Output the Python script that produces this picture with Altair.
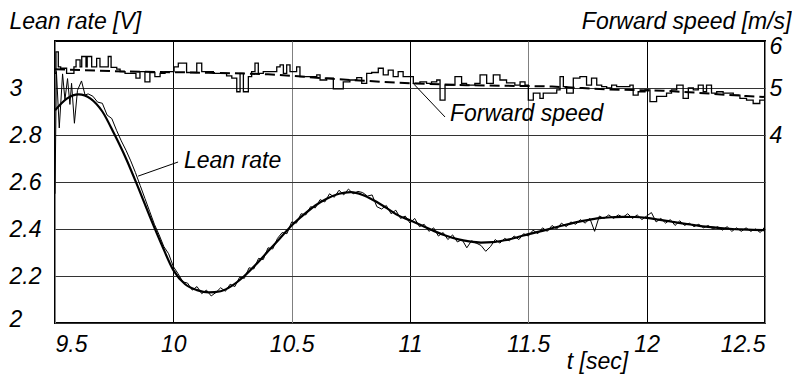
import altair as alt
import pandas as pd

FONT = "Liberation Sans"
FS = 23

# ---------------- data ----------------
# smooth fitted lean-rate curve
fit_t = [9.50, 9.55, 9.60, 9.65, 9.70, 9.75, 9.80, 9.85, 9.90, 9.95,
         10.00, 10.05, 10.10, 10.15, 10.20, 10.25, 10.30, 10.35, 10.40, 10.45,
         10.50, 10.55, 10.60, 10.65, 10.70, 10.75, 10.80, 10.85, 10.90, 10.95,
         11.00, 11.05, 11.10, 11.15, 11.20, 11.25, 11.30, 11.35, 11.40, 11.45,
         11.50, 11.55, 11.60, 11.65, 11.70, 11.75, 11.80, 11.85, 11.90, 11.95,
         12.00, 12.05, 12.10, 12.15, 12.20, 12.25, 12.30, 12.35, 12.40, 12.45,
         12.50]
fit_lean = [2.905, 2.955, 2.973, 2.955, 2.90, 2.805, 2.70, 2.58, 2.455, 2.335,
            2.225, 2.165, 2.14, 2.13, 2.135, 2.16, 2.20, 2.25, 2.305, 2.36,
            2.415, 2.46, 2.50, 2.53, 2.55, 2.557, 2.545, 2.52, 2.49, 2.458,
            2.437, 2.415, 2.392, 2.372, 2.357, 2.347, 2.342, 2.344, 2.352, 2.364,
            2.378, 2.39, 2.403, 2.416, 2.428, 2.438, 2.446, 2.45, 2.452, 2.451,
            2.447, 2.44, 2.432, 2.424, 2.417, 2.41, 2.405, 2.401, 2.398, 2.396,
            2.395]

# measured (noisy) lean rate
raw_t = [9.500, 9.506, 9.518, 9.532, 9.542, 9.553, 9.563, 9.570, 9.582, 9.595,
         9.612, 9.627, 9.640,
         9.66, 9.68, 9.70, 9.72, 9.74, 9.76, 9.78, 9.80, 9.82, 9.84,
         9.86, 9.88, 9.90, 9.92, 9.94, 9.96, 9.98, 10.00, 10.02, 10.04,
         10.06, 10.08, 10.10, 10.12, 10.14, 10.16, 10.18, 10.20, 10.22, 10.24,
         10.26, 10.28, 10.30, 10.32, 10.34, 10.36, 10.38, 10.40, 10.42, 10.44,
         10.46, 10.48, 10.50, 10.52, 10.54, 10.56, 10.58, 10.60, 10.62, 10.64,
         10.66, 10.68, 10.70, 10.72, 10.74, 10.76, 10.78, 10.80, 10.82, 10.84,
         10.86, 10.88, 10.90, 10.92, 10.94, 10.96, 10.98, 11.00, 11.02, 11.04,
         11.06, 11.08, 11.10, 11.12, 11.14, 11.16, 11.18, 11.20, 11.22, 11.24,
         11.26, 11.28, 11.30, 11.32, 11.34, 11.36, 11.38, 11.40, 11.42, 11.44,
         11.46, 11.48, 11.50, 11.52, 11.54, 11.56, 11.58, 11.60, 11.62, 11.64,
         11.66, 11.68, 11.70, 11.72, 11.74, 11.76, 11.78, 11.80, 11.82, 11.84,
         11.86, 11.88, 11.90, 11.92, 11.94, 11.96, 11.98, 12.00, 12.02, 12.04,
         12.06, 12.08, 12.10, 12.12, 12.14, 12.16, 12.18, 12.20, 12.22, 12.24,
         12.26, 12.28, 12.30, 12.32, 12.34, 12.36, 12.38, 12.40, 12.42, 12.44,
         12.46, 12.48, 12.50]
raw_lean = [2.55, 3.07, 2.83, 3.06, 2.95, 3.04, 2.93, 3.02, 2.85, 2.99,
            3.03, 2.97, 2.975,
            2.965, 2.94, 2.935, 2.885, 2.87, 2.82, 2.775, 2.735, 2.69, 2.64,
            2.585, 2.53, 2.475, 2.42, 2.375, 2.325, 2.295, 2.24, 2.21, 2.175,
            2.17, 2.14, 2.155, 2.125, 2.14, 2.115, 2.13, 2.15, 2.135, 2.165,
            2.155, 2.195, 2.19, 2.235, 2.23, 2.275, 2.27, 2.32, 2.315, 2.36,
            2.385, 2.38, 2.43, 2.425, 2.465, 2.46, 2.495, 2.49, 2.525, 2.515,
            2.55, 2.535, 2.565, 2.545, 2.57, 2.55, 2.56, 2.555, 2.54, 2.545,
            2.495, 2.485, 2.50, 2.465, 2.48, 2.445, 2.455, 2.425, 2.445, 2.41,
            2.42, 2.39, 2.405, 2.37, 2.385, 2.355, 2.375, 2.345, 2.355, 2.32,
            2.35, 2.34, 2.33, 2.305, 2.325, 2.355, 2.34, 2.36, 2.35, 2.37,
            2.355, 2.38, 2.37, 2.395, 2.38, 2.405, 2.39, 2.415, 2.40, 2.425,
            2.41, 2.43, 2.42, 2.44, 2.425, 2.445, 2.39, 2.455, 2.445, 2.46,
            2.445, 2.46, 2.45, 2.465, 2.445, 2.46, 2.44, 2.455, 2.47, 2.43,
            2.445, 2.425, 2.44, 2.415, 2.435, 2.415, 2.425, 2.41, 2.42, 2.405,
            2.415, 2.40, 2.41, 2.395, 2.41, 2.39, 2.405, 2.39, 2.405, 2.39,
            2.40, 2.385, 2.41]

# measured forward speed (quantised, stepwise)
speed_t = [9.500, 9.504, 9.514, 9.524, 9.549, 9.580, 9.589, 9.606, 9.613, 9.631,
           9.636, 9.655, 9.676, 9.690, 9.725, 9.737, 9.761, 9.775, 9.796, 9.842,
           9.859, 9.880, 9.901, 9.922, 9.944, 9.965, 10.003, 10.021, 10.056, 10.099,
           10.120, 10.169, 10.225, 10.247, 10.268, 10.282, 10.296, 10.317, 10.331, 10.345,
           10.359, 10.380, 10.437, 10.451, 10.465, 10.479, 10.493, 10.521, 10.535, 10.606,
           10.620, 10.648, 10.676, 10.718, 10.746, 10.775, 10.796, 10.817, 10.838, 10.866,
           10.887, 10.908, 10.929, 10.950, 10.971, 11.014, 11.042, 11.070, 11.091, 11.113,
           11.127, 11.148, 11.190, 11.218, 11.239, 11.274, 11.296, 11.324, 11.352, 11.380,
           11.408, 11.443, 11.465, 11.486, 11.500, 11.521, 11.549, 11.563, 11.620, 11.634,
           11.648, 11.662, 11.690, 11.718, 11.746, 11.767, 11.789, 11.810, 11.831, 11.852,
           11.873, 11.929, 11.943, 11.964, 11.993, 12.014, 12.042, 12.084, 12.105, 12.127,
           12.154, 12.176, 12.197, 12.218, 12.239, 12.253, 12.274, 12.296, 12.323, 12.366,
           12.394, 12.422, 12.450, 12.478, 12.500]
speed_v = [5.31, 5.77, 5.45, 5.42, 5.31, 5.45, 5.60, 5.45, 5.67, 5.45,
           5.67, 5.45, 5.63, 5.45, 5.67, 5.44, 5.40, 5.35, 5.31, 5.21,
           5.35, 5.13, 5.33, 5.24, 5.31, 5.35, 5.45, 5.53, 5.33, 5.53,
           5.35, 5.31, 5.26, 5.21, 4.92, 5.31, 4.92, 5.24, 5.35, 5.53,
           5.31, 5.35, 5.45, 5.49, 5.31, 5.49, 5.35, 5.45, 5.24, 5.28,
           5.17, 5.21, 4.98, 5.13, 5.17, 5.22, 5.10, 5.31, 5.33, 5.42,
           5.28, 5.38, 5.24, 5.35, 5.24, 5.10, 5.13, 5.10, 5.13, 5.17,
           4.74, 5.06, 5.24, 5.10, 5.06, 5.10, 5.28, 5.10, 5.28, 5.17,
           5.11, 5.06, 5.13, 5.06, 4.74, 4.89, 4.78, 4.89, 4.96, 5.24,
           5.03, 4.89, 5.21, 5.24, 5.06, 5.21, 5.06, 5.03, 5.00, 5.06,
           5.03, 5.06, 4.85, 4.92, 4.96, 4.71, 4.82, 4.89, 4.96, 5.06,
           4.78, 5.00, 4.96, 5.06, 4.92, 5.06, 4.89, 4.92, 4.89, 4.85,
           4.78, 4.74, 4.67, 4.74, 4.74]

# dashed fitted forward-speed trend
speedfit_t = [9.50, 9.81, 10.08, 10.40, 10.69, 11.01, 11.24, 11.60, 11.84, 12.07, 12.42, 12.50]
speedfit_v = [5.40, 5.35, 5.33, 5.29, 5.19, 5.10, 5.06, 5.03, 4.97, 4.94, 4.83, 4.81]

tick_t = [9.5, 10, 10.5, 11, 11.5, 12, 12.5]
tick_lean = [2, 2.2, 2.4, 2.6, 2.8, 3]
tick_speed = [4, 5, 6]

# annotations (label text, anchor, and leader-line ends in data units)
lean_label = {"text": ["Lean rate"], "t": [10.045], "v": [2.66]}
lean_leader = {"t": [10.02], "v": [2.685], "t2": [9.851], "v2": [2.625]}
speed_label = {"text": ["Forward speed"], "t": [11.169], "v": [4.30]}
speed_leader = {"t": [11.012], "v": [5.106], "t2": [11.148], "v2": [4.383]}

# ---------------- frames ----------------
df_fit = pd.DataFrame({"t": fit_t, "v": fit_lean})
df_raw = pd.DataFrame({"t": raw_t, "v": raw_lean})
df_speed = pd.DataFrame({"t": speed_t, "v": speed_v})
df_speedfit = pd.DataFrame({"t": speedfit_t, "v": speedfit_v})
df_lean_label = pd.DataFrame(lean_label)
df_lean_leader = pd.DataFrame(lean_leader)
df_speed_label = pd.DataFrame(speed_label)
df_speed_leader = pd.DataFrame(speed_leader)

# ---------------- axes / scales ----------------
txt = dict(labelFont=FONT, labelFontSize=FS, labelFontStyle="italic", labelColor="black",
           titleFont=FONT, titleFontSize=FS, titleFontStyle="italic",
           titleFontWeight="normal", titleColor="black")

x_axis = alt.Axis(values=tick_t, format="~g", title="t [sec]", grid=True,
                  gridColor={"condition": {"test": "datum.value % 1 === 0", "value": "#000000"},
                             "value": "#808080"},
                  gridWidth=1, domain=False, ticks=False, labelPadding=10,
                  labelFlush=True, titleX=542, titleY=45, titleAlign="center",
                  titleBaseline="alphabetic", **txt)
x_scale = alt.Scale(domain=[9.5, 12.5], nice=False, zero=False)

lean_axis = alt.Axis(values=tick_lean, format="~g", title="Lean rate [V]", orient="left",
                     grid=True, gridColor="#333333", gridWidth=1, domain=False, ticks=False,
                     labelAlign="left", labelBaseline="middle", labelPadding=46,
                     labelOffset={"condition": {"test": "datum.value === 2", "value": -4},
                                  "value": 0},
                     titleAngle=0, titleX=-46, titleY=-13, titleAlign="left",
                     titleBaseline="alphabetic", **txt)
lean_scale = alt.Scale(domain=[2, 3.2], nice=False, zero=False)

speed_axis = alt.Axis(values=tick_speed, format="~g", title="Forward speed [m/s]", orient="right",
                      grid=False, domain=False, ticks=False, labelAlign="left",
                      labelBaseline="middle", labelPadding=4,
                      labelOffset={"condition": {"test": "datum.value === 6", "value": 5},
                                   "value": 0},
                      titleAngle=0, titleX=26, titleY=-13, titleAlign="right",
                      titleBaseline="alphabetic", **txt)
speed_scale = alt.Scale(domain=[0, 6], nice=False, zero=False)


def X(field="t"):
    return alt.X(f"{field}:Q", scale=x_scale, axis=x_axis)


def YL(field="v"):
    return alt.Y(f"{field}:Q", scale=lean_scale, axis=lean_axis)


def YS(field="v"):
    return alt.Y(f"{field}:Q", scale=speed_scale, axis=speed_axis)


# ---------------- lean rate layers ----------------
raw_line = alt.Chart(df_raw).mark_line(color="black", strokeWidth=1, clip=True).encode(
    x=X(), y=YL(), order="t:Q")
fit_line = alt.Chart(df_fit).mark_line(color="black", strokeWidth=2.2, interpolate="monotone",
                                       clip=True).encode(x=X(), y=YL(), order="t:Q")
lean_text = alt.Chart(df_lean_label).mark_text(font=FONT, fontSize=FS, fontStyle="italic",
                                               align="left", baseline="alphabetic",
                                               color="black").encode(
    x=X(), y=YL(), text="text:N")
lean_lead = alt.Chart(df_lean_leader).mark_rule(color="black", strokeWidth=1).encode(
    x=X(), y=YL(), x2="t2:Q", y2="v2:Q")

lean_layer = alt.layer(raw_line, fit_line, lean_lead, lean_text)

# ---------------- forward speed layers ----------------
speed_line = alt.Chart(df_speed).mark_line(color="black", strokeWidth=1.3,
                                           interpolate="step-after", clip=True).encode(
    x=X(), y=YS(), order="t:Q")
speedfit_line = alt.Chart(df_speedfit).mark_line(color="black", strokeWidth=2,
                                                 strokeDash=[10, 5], interpolate="monotone",
                                                 clip=True).encode(x=X(), y=YS(), order="t:Q")
speed_text = alt.Chart(df_speed_label).mark_text(font=FONT, fontSize=FS, fontStyle="italic",
                                                 align="left", baseline="alphabetic",
                                                 color="black").encode(
    x=X(), y=YS(), text="text:N")
speed_lead = alt.Chart(df_speed_leader).mark_rule(color="black", strokeWidth=1).encode(
    x=X(), y=YS(), x2="t2:Q", y2="v2:Q")

speed_layer = alt.layer(speed_line, speedfit_line, speed_lead, speed_text)

chart = alt.layer(lean_layer, speed_layer).resolve_scale(y="independent").properties(
    width=710, height=282,
    padding={"left": 47, "top": 33, "right": 27, "bottom": 56},
    autosize=alt.AutoSizeParams(type="none"),
    background="white",
).configure_view(stroke="black", strokeWidth=2)

chart.save("out.html", embed_options={"renderer": "svg", "actions": False})
